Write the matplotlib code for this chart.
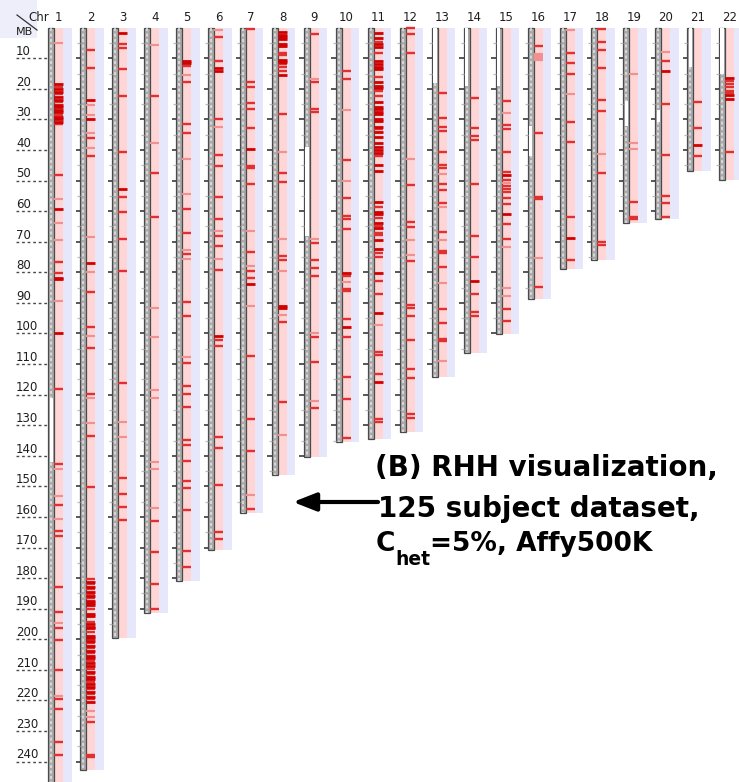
import matplotlib
matplotlib.use("Agg")
import matplotlib.pyplot as plt
from matplotlib.patches import Rectangle

# ---------------------------------------------------------------- data
chrom_names = [str(i) for i in range(1, 23)]
chrom_length_mb = [247.2, 242.8, 199.5, 191.3, 180.9, 170.9, 158.8, 146.3,
                   140.3, 135.4, 134.5, 132.3, 114.1, 106.4, 100.3, 88.8,
                   78.8, 76.1, 63.8, 62.4, 46.9, 49.7]

# regions without marker coverage drawn as white gaps in the ideogram bar
coverage_gaps = {
    "1": [(121, 142)], "9": [(39, 68)], "13": [(0, 18)], "14": [(0, 19)],
    "15": [(0, 19)], "16": [(32, 42)], "19": [(24, 32)], "20": [(27, 31)],
    "21": [(0, 13)], "22": [(0, 15)],
}

# RHH hits: (position in MB, strength 1=weak, 2=medium, 3=strong)
rhh_1 = [(5.0, 1), (18.3, 3), (19.3, 2), (20.2, 3), (21.0, 3), (21.8, 2), (22.7, 3),
         (23.6, 3), (24.4, 2), (25.3, 3), (26.0, 3), (26.8, 3), (27.6, 3), (28.4, 2),
         (29.2, 3), (30.0, 3), (30.8, 3), (31.6, 2), (48.2, 2), (56.0, 1), (59.2, 3),
         (64.0, 1), (69.5, 1), (76.6, 2), (80.2, 2), (81.7, 3), (82.3, 3), (89.4, 1),
         (99.7, 3), (118.2, 2), (142.7, 2), (144.3, 1), (153.0, 1), (156.0, 2),
         (160.7, 1), (164.6, 2), (166.3, 2), (182.8, 2), (191.0, 2), (194.7, 1),
         (196.3, 2), (200.3, 2), (210.0, 2), (218.5, 1), (219.5, 2), (222.8, 2),
         (233.5, 2), (237.7, 2)]
rhh_2 = [(7.3, 2), (13.1, 2), (23.6, 3), (25.3, 1), (28.5, 1), (29.9, 3), (34.3, 1),
         (36.2, 2), (39.2, 1), (41.9, 2), (68.5, 1), (76.9, 3), (79.8, 1), (86.3, 2),
         (97.8, 2), (100.7, 1), (104.6, 2), (119.8, 2), (121.2, 1), (129.2, 1),
         (133.5, 2), (150.3, 2),
         (180.4, 2), (181.2, 3), (181.9, 2), (182.8, 3), (183.7, 2), (184.4, 3),
         (185.2, 2), (185.8, 3), (186.6, 2), (187.4, 3), (188.0, 3), (188.8, 3),
         (190.2, 2), (191.7, 3), (192.4, 3), (194.2, 2), (195.0, 3), (195.9, 3),
         (196.4, 3), (197.5, 2), (198.9, 3), (199.7, 3), (200.4, 3), (201.3, 2),
         (202.2, 3), (202.9, 2), (203.7, 3), (204.6, 2), (205.4, 3), (206.2, 3),
         (207.0, 2), (207.8, 3), (208.7, 3), (209.7, 2), (210.6, 3), (211.4, 2),
         (212.4, 3), (213.1, 3), (213.9, 2), (214.7, 3), (215.5, 3), (216.4, 2),
         (217.1, 3), (218.0, 2), (218.8, 3), (219.6, 2), (220.4, 3), (223.3, 1),
         (225.3, 1), (227.1, 2), (237.7, 2), (238.5, 2)]
rhh_3 = [(1.8, 3), (5.4, 2), (6.7, 2), (13.5, 2), (22.2, 2), (40.5, 2), (52.7, 3),
         (55.3, 2), (60.3, 2), (69.0, 2), (79.5, 2), (116.1, 2), (129.1, 1),
         (134.0, 1), (147.1, 2), (152.5, 2), (156.8, 2), (161.1, 2)]
rhh_4 = [(5.7, 1), (22.2, 2), (37.6, 1), (47.4, 2), (61.8, 2), (91.8, 1), (101.0, 1),
         (118.6, 1), (121.2, 1), (142.0, 1), (144.2, 1), (157.1, 1), (161.2, 2),
         (171.5, 2), (182.0, 2), (190.2, 2)]
rhh_5 = [(10.9, 3), (11.6, 3), (12.4, 2), (15.5, 1), (17.7, 2), (31.6, 2), (34.5, 2),
         (43.0, 1), (54.3, 1), (59.2, 2), (67.2, 2), (72.7, 1), (74.0, 2), (75.5, 1),
         (89.8, 2), (94.2, 2), (107.6, 1), (109.5, 2), (117.1, 2), (119.7, 2),
         (123.9, 2), (134.8, 2), (136.6, 2), (141.8, 2), (148.1, 2), (150.5, 2),
         (157.6, 2), (171.0, 2), (176.5, 2)]
rhh_6 = [(0.8, 1), (2.9, 2), (10.9, 2), (13.3, 3), (14.0, 3), (29.9, 2), (32.6, 1),
         (41.6, 2), (45.2, 2), (55.3, 2), (62.6, 2), (66.4, 1), (68.1, 2), (71.3, 2),
         (75.5, 1), (79.2, 2), (100.8, 3), (102.1, 2), (104.0, 2), (133.7, 2),
         (137.5, 2), (149.4, 2), (164.8, 2), (167.2, 2)]
rhh_7 = [(0.5, 2), (17.7, 2), (19.5, 2), (24.5, 2), (26.5, 2), (32.8, 2), (39.7, 3),
         (45.1, 2), (46.0, 2), (51.1, 2), (66.4, 1), (73.2, 2), (77.9, 1), (79.4, 2),
         (82.0, 2), (83.8, 3), (91.0, 1), (107.4, 2), (128.0, 2), (138.3, 2),
         (152.8, 1), (157.5, 2)]
rhh_8 = [(1.5, 3), (2.3, 3), (3.0, 3), (3.8, 3), (5.2, 3), (6.0, 3), (8.3, 2), (9.0, 2),
         (10.5, 3), (11.3, 3), (12.0, 2), (13.0, 2), (14.0, 2), (15.4, 3), (28.3, 2),
         (40.8, 1), (47.6, 2), (50.6, 2), (69.2, 1), (74.6, 2), (76.0, 2), (79.6, 1),
         (91.0, 3), (91.7, 3), (94.0, 1), (96.2, 2), (122.5, 2), (133.3, 1)]
rhh_9 = [(2.1, 2), (16.8, 1), (17.7, 2), (26.7, 2), (27.7, 2), (69.2, 1), (70.3, 2),
         (76.1, 2), (78.7, 2), (81.2, 2), (100.0, 1), (101.0, 2), (109.3, 2),
         (122.0, 1), (124.3, 2)]
rhh_10 = [(14.2, 2), (16.9, 2), (26.9, 1), (43.2, 2), (50.0, 1), (55.6, 2), (61.5, 2),
          (62.7, 2), (65.9, 2), (80.3, 3), (81.1, 2), (83.1, 1), (85.4, 2), (86.2, 2),
          (95.3, 2), (97.9, 3), (101.2, 2), (114.3, 2), (121.4, 2), (134.3, 2)]
rhh_11 = [(1.8, 3), (3.5, 3), (4.6, 2), (5.4, 3), (6.2, 3), (8.4, 2), (10.9, 3),
          (12.0, 3), (12.7, 3), (13.5, 3), (16.0, 2), (17.6, 3), (19.1, 3), (19.8, 3),
          (20.6, 2), (22.3, 2), (24.3, 3), (25.8, 3), (26.6, 3), (27.5, 3), (28.2, 3),
          (29.9, 3), (30.4, 3), (32.4, 3), (33.1, 2), (34.0, 3), (35.6, 3), (37.8, 3),
          (38.9, 3), (40.0, 3), (41.1, 3), (41.9, 2), (44.9, 3), (46.7, 3), (57.1, 3),
          (58.5, 2), (60.2, 3), (60.9, 3), (62.3, 2), (64.0, 3), (64.7, 2), (65.6, 3),
          (67.0, 2), (67.8, 2), (69.4, 3), (72.5, 3), (73.8, 2), (74.9, 2), (80.1, 3),
          (82.7, 2), (87.2, 2), (93.4, 3), (97.2, 1), (106.0, 2), (107.0, 2),
          (113.3, 2), (116.0, 3), (128.0, 2), (128.8, 2)]
rhh_12 = [(0.2, 2), (2.1, 2), (8.4, 2), (42.9, 1), (51.4, 2), (63.6, 2), (65.3, 2),
          (69.4, 1), (74.3, 1), (76.2, 2), (90.7, 2), (91.6, 2), (94.3, 2), (102.1, 2),
          (111.7, 2), (114.7, 2), (126.3, 2), (127.7, 2)]
rhh_13 = [(21.2, 2), (29.6, 2), (32.4, 2), (33.8, 2), (40.5, 2), (44.9, 2), (46.0, 2),
          (47.8, 1), (51.1, 2), (53.1, 2), (57.2, 2), (58.7, 1), (66.7, 2), (69.4, 1),
          (73.0, 2), (73.6, 2), (78.4, 2), (83.6, 1), (92.1, 2), (96.7, 2), (101.8, 2),
          (102.6, 2), (109.0, 1)]
rhh_14 = [(23.1, 2), (32.9, 2), (35.4, 2), (36.7, 2), (51.1, 2), (68.1, 2), (74.9, 2),
          (82.7, 3), (87.2, 2), (92.9, 2), (94.3, 2)]
rhh_15 = [(23.9, 2), (28.0, 1), (31.8, 2), (33.1, 2), (40.5, 2), (47.3, 2), (48.2, 3),
          (49.8, 2), (50.7, 1), (51.7, 2), (52.8, 2), (53.7, 2), (55.6, 2), (57.8, 2),
          (60.9, 3), (64.2, 2), (69.1, 2), (71.8, 1), (85.2, 1), (87.7, 1), (92.0, 2),
          (95.9, 2)]
rhh_16 = [(6.0, 2), (8.6, 1), (9.3, 1), (10.0, 1), (10.7, 1), (34.3, 2), (55.3, 2),
          (55.9, 2), (75.2, 1), (84.9, 2)]
rhh_17 = [(0.8, 1), (8.2, 2), (11.6, 2), (15.0, 2), (21.7, 1), (30.7, 2), (37.3, 2),
          (62.0, 2), (68.9, 3), (76.0, 2)]
rhh_18 = [(0.5, 2), (4.7, 2), (7.3, 2), (13.1, 2), (23.6, 2), (27.2, 2), (41.3, 1),
          (47.4, 2), (70.2, 2), (70.9, 2)]
rhh_19 = [(15.2, 1), (37.6, 1), (39.8, 1), (57.1, 2), (61.8, 2), (62.4, 2)]
rhh_20 = [(7.8, 1), (10.9, 2), (14.0, 3), (25.0, 2), (41.6, 2), (54.9, 2), (57.4, 2),
          (61.8, 2)]
rhh_21 = [(24.4, 2), (32.8, 2), (38.5, 3), (41.9, 2)]
rhh_22 = [(16.6, 3), (17.4, 2), (18.4, 2), (19.3, 2), (20.6, 2), (21.4, 2), (22.0, 3),
          (23.4, 3), (40.5, 2)]

rhh_hits = [rhh_1, rhh_2, rhh_3, rhh_4, rhh_5, rhh_6, rhh_7, rhh_8, rhh_9, rhh_10,
            rhh_11, rhh_12, rhh_13, rhh_14, rhh_15, rhh_16, rhh_17, rhh_18, rhh_19,
            rhh_20, rhh_21, rhh_22]

axis_ticks_mb = list(range(10, 250, 10))

# ---------------------------------------------------------------- layout
W_PX, H_PX = 739, 782
PITCH_PX = 31.95          # horizontal distance between chromosome columns
PX_PER_MB = 3.058
TOP_PX = 27.7             # pixel row of 0 MB
FIRST_BAR_PX = 48.3

def px_w(px):
    return px / PITCH_PX

BAR_W = px_w(6.0)
PINK_W = px_w(9.0)
LAV_W = px_w(8.5)

PINK = "#ffd5d5"
LAVENDER = "#e7e7fc"
LEVEL_COLOR = {1: "#f28f8f", 2: "#e03030", 3: "#d00000"}
LEVEL_LW = {1: 1.5, 2: 1.7, 3: 2.0}

fig = plt.figure(figsize=(W_PX / 100, H_PX / 100), dpi=100)
ax = fig.add_axes([0, 0, 1, 1])
x_left = 1 - FIRST_BAR_PX / PITCH_PX
ax.set_xlim(x_left, x_left + W_PX / PITCH_PX)
ax.set_ylim((H_PX - TOP_PX) / PX_PER_MB, -TOP_PX / PX_PER_MB)
ax.axis("off")

# soft tinted corner behind the header
fig.add_artist(Rectangle((0, 1 - 38 / H_PX), 37 / W_PX, 38 / H_PX,
                         transform=fig.transFigure, facecolor="#eeeefa",
                         edgecolor="none", zorder=0))

for k, (name, length, hits) in enumerate(zip(chrom_names, chrom_length_mb, rhh_hits)):
    x0 = k + 1
    # background strips: RHH track (pink) and spacer (lavender)
    ax.add_patch(Rectangle((x0 + BAR_W, 0), PINK_W, length, facecolor=PINK,
                           edgecolor="none", zorder=1))
    ax.add_patch(Rectangle((x0 + BAR_W + PINK_W, 0), LAV_W, length,
                           facecolor=LAVENDER, edgecolor="none", zorder=1))
    # ideogram bar with a light dashed core
    ax.add_patch(Rectangle((x0, 0), BAR_W, length, facecolor="#a9a9a9",
                           edgecolor="#4a4a4a", lw=0.9, zorder=2))
    ax.vlines(x0 + BAR_W / 2, 0, length, colors="#e4e4e4", lw=1.1,
              linestyles=(0, (2.0, 1.6)), zorder=3)
    for g0, g1 in coverage_gaps.get(name, []):
        ax.add_patch(Rectangle((x0 + px_w(1.2), g0), BAR_W - px_w(2.4), g1 - g0,
                               facecolor="white", edgecolor="none", zorder=3))
    # RHH marks
    for lvl in (1, 2, 3):
        ys = [p for p, s in hits if s == lvl]
        if ys:
            ax.hlines(ys, x0 + BAR_W, x0 + BAR_W + PINK_W, colors=LEVEL_COLOR[lvl],
                      lw=LEVEL_LW[lvl], zorder=4)
    # MB ticks to the left of each bar (chromosome 1 uses the dotted guides)
    if k > 0:
        major = [t for t in range(10, int(length) + 1, 10)]
        minor = [t for t in range(5, int(length) + 1, 10)]
        ax.hlines(major, x0 - px_w(4.5), x0, colors="#2a2a2a", lw=1.1, zorder=2)
        ax.hlines(minor, x0 - px_w(3.0), x0, colors="#b9b9b9", lw=0.9, zorder=2)
    # column header
    ax.text(x0 + BAR_W + PINK_W / 2, -3.2, name, ha="center", va="center",
            fontsize=8.5, color="#1e1e1e", family="DejaVu Sans")

# MB axis with dotted guides
guide_x0 = x_left + px_w(16)
ax.hlines(axis_ticks_mb, guide_x0, 1.0, colors="#4a4a4a", lw=1.0,
          linestyles=(0, (2.0, 2.0)), zorder=2)
for t in axis_ticks_mb:
    ax.text(guide_x0, t - 2.2, str(t), ha="left", va="center", fontsize=8.5,
            color="#1e1e1e", family="DejaVu Sans")

ax.text(x_left + px_w(16), (32 - TOP_PX) / PX_PER_MB, "MB", ha="left", va="center",
        fontsize=8, color="#1e1e1e", family="DejaVu Sans")
ax.text(x_left + px_w(28), (18 - TOP_PX) / PX_PER_MB, "Chr", ha="left", va="center",
        fontsize=8.5, color="#1e1e1e", family="DejaVu Sans")
ax.plot([x_left + px_w(17), x_left + px_w(37)],
        [(15 - TOP_PX) / PX_PER_MB, (30 - TOP_PX) / PX_PER_MB],
        color="#333333", lw=0.9)

# ---------------------------------------------------------------- caption
cap_kw = dict(fontsize=20, fontweight="bold", family="DejaVu Sans", color="black",
              va="baseline", ha="left")
fig.text(375 / W_PX, 1 - 476 / H_PX, "(B) RHH visualization,", **cap_kw)
fig.text(378 / W_PX, 1 - 517 / H_PX, "125 subject dataset,", **cap_kw)

renderer = fig.canvas.get_renderer()
line3_kw = dict(cap_kw, fontsize=19)
t_c = fig.text(376 / W_PX, 1 - 551 / H_PX, "C", **line3_kw)
x_px = t_c.get_window_extent(renderer).x1
sub_kw = dict(cap_kw, fontsize=13.5)
t_sub = fig.text(x_px / W_PX, 1 - 565 / H_PX, "het", **sub_kw)
x_px = t_sub.get_window_extent(renderer).x1
fig.text(x_px / W_PX, 1 - 551 / H_PX, "=5%, Affy500K", **line3_kw)

ax.annotate("", xy=(293, H_PX - 502), xytext=(378, H_PX - 502),
            xycoords="figure pixels", textcoords="figure pixels",
            arrowprops=dict(arrowstyle="-|>,head_length=1.4,head_width=0.55",
                            mutation_scale=10, lw=3.0, color="black",
                            shrinkA=0, shrinkB=0))

fig.savefig("out.png", dpi=100, facecolor="white")
